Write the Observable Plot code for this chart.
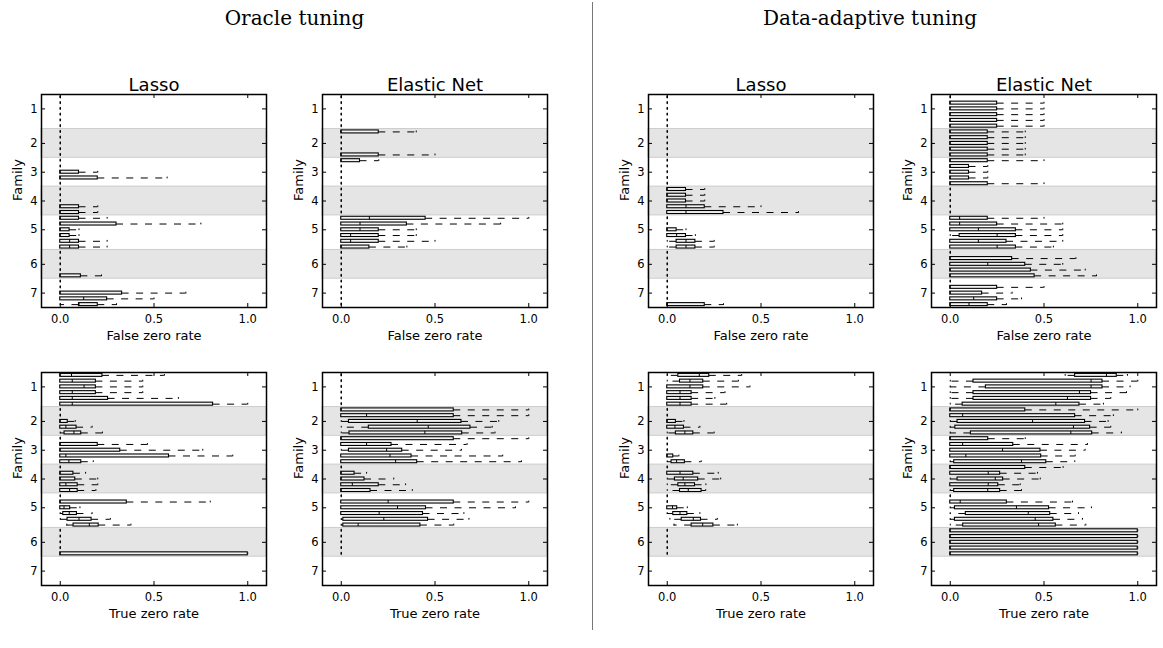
<!DOCTYPE html>
<html><head><meta charset="utf-8">
<script src="https://cdn.jsdelivr.net/npm/d3@7"></script>
<script src="https://cdn.jsdelivr.net/npm/@observablehq/plot@0.6"></script>
<style>
html,body{margin:0;padding:0;background:#fff;}
body{width:1163px;height:648px;position:relative;overflow:hidden;font-family:"DejaVu Sans";}
.panel{position:absolute;}
.hdr{position:absolute;font-family:"DejaVu Serif";font-size:20px;transform:translateX(-50%);white-space:nowrap;line-height:1;}
.sep{position:absolute;left:592px;top:2px;width:1px;height:628px;background:#777;}
</style></head><body>
<div class="sep"></div>
<script>
// ---- categories / ticks ----
const familyLabels = ["1","2","3","4","5","6","7"];
const familyStart  = [1, 7, 12, 17, 22, 28, 33];   // first row of each family
const familySize   = [6, 5, 5, 5, 6, 5, 5];        // rows per family
const shadedFamilies = ["2","4","6"];
const xTicks  = [0, 0.5, 1.0];
const xDomain = [-0.1, 1.1];
const methodTitles = ["Lasso", "Elastic Net"];
const tuningTitles = ["Oracle tuning", "Data-adaptive tuning"];
const rateLabels = ["False zero rate", "True zero rate"];
const rowsFalseZero = 37, rowsTrueZero = 32;

// ---- box statistics: [row, whiskerLow, q1, median, q3, whiskerHigh]; unlisted rows are all 0 ----
const oracleLassoFZR = [
  [14,0,0,0,0.10,0.20],[15,0,0,0,0.20,0.57],
  [20,0,0,0,0.10,0.20],[21,0,0,0,0.10,0.20],[22,0,0,0,0.10,0.25],[23,0,0,0,0.30,0.75],
  [24,0,0,0,0.05,0.10],[25,0,0,0,0.05,0.10],[26,0,0,0.05,0.10,0.25],[27,0,0,0.05,0.10,0.25],
  [32,0,0,0,0.11,0.22],
  [35,0,0,0,0.33,0.67],[36,0,0,0.125,0.25,0.50],[37,0,0.10,0.10,0.20,0.30]
];
const oracleEnetFZR = [
  [7,0,0,0,0.20,0.40],[11,0,0,0,0.20,0.50],[12,0,0,0,0.10,0.20],
  [22,0,0,0.15,0.45,1.0],[23,0,0,0.10,0.35,0.85],[24,0,0,0.10,0.20,0.40],
  [25,0,0,0.05,0.20,0.40],[26,0,0,0.05,0.20,0.50],[27,0,0,0,0.15,0.35]
];
const adaptLassoFZR = [
  [17,0,0,0,0.10,0.20],[18,0,0,0,0.10,0.20],[19,0,0,0,0.10,0.20],
  [20,0,0,0.10,0.20,0.50],[21,0,0,0.10,0.30,0.70],
  [24,0,0,0,0.05,0.10],[25,0,0,0.05,0.10,0.15],[26,0,0.05,0.10,0.15,0.25],[27,0,0.05,0.10,0.15,0.25],
  [37,0,0,0,0.20,0.30]
];
const adaptEnetFZR = [
  [2,0,0,0,0.25,0.50],[3,0,0,0,0.25,0.50],[4,0,0,0,0.25,0.50],[5,0,0,0,0.25,0.50],[6,0,0,0,0.25,0.50],
  [7,0,0,0,0.20,0.40],[8,0,0,0,0.20,0.40],[9,0,0,0,0.20,0.40],[10,0,0,0,0.20,0.40],[11,0,0,0,0.20,0.40],
  [12,0,0,0,0.20,0.50],[13,0,0,0,0.10,0.20],[14,0,0,0,0.10,0.20],[15,0,0,0,0.10,0.20],[16,0,0,0,0.20,0.50],
  [22,0,0,0.05,0.20,0.50],[23,0,0,0.05,0.25,0.60],[24,0,0,0.15,0.35,0.60],
  [25,0,0.05,0.25,0.35,0.60],[26,0,0,0.15,0.30,0.60],[27,0,0,0.25,0.35,0.55],
  [29,0,0,0,0.33,0.67],[30,0,0,0.20,0.40,0.60],[31,0,0,0,0.43,0.72],[32,0,0,0,0.45,0.78],
  [34,0,0,0,0.25,0.50],[35,0,0,0,0.17,0.33],[36,0,0,0.125,0.25,0.38],[37,0,0,0.10,0.20,0.30]
];
const oracleLassoTZR = [
  [1,0,0,0.06,0.225,0.555],[2,0,0,0.064,0.19,0.44],[3,0,0,0.127,0.19,0.44],
  [4,0,0,0.064,0.19,0.44],[5,0,0,0.064,0.255,0.63],[6,0,0,0.064,0.815,1.0],
  [9,0,0,0,0.04,0.08],[10,0,0,0.03,0.087,0.17],[11,0,0.023,0.073,0.112,0.225],
  [13,0,0,0,0.20,0.465],[14,0,0,0,0.32,0.76],[15,0,0,0.03,0.58,0.92],[16,0,0,0.046,0.112,0.176],
  [18,0,0,0,0.07,0.135],[19,0,0,0,0.08,0.20],[20,0,0,0.03,0.093,0.20],[21,0,0,0.05,0.093,0.19],
  [23,0,0,0,0.355,0.80],[24,0,0,0.02,0.053,0.105],[25,0,0.016,0.048,0.089,0.17],
  [26,0,0.039,0.10,0.167,0.267],[27,0.035,0.071,0.155,0.205,0.377],
  [32,0,0,0,1.0,1.0]
];
const oracleEnetTZR = [
  [7,0,0,0,0.60,1.0],[8,0,0,0.135,0.60,1.0],[9,0,0.041,0.405,0.641,0.84],
  [10,0,0.147,0.464,0.689,0.805],[11,0,0.044,0.446,0.645,0.82],
  [12,0,0,0,0.60,1.0],[13,0,0,0.135,0.268,0.671],[14,0,0.041,0.242,0.325,0.641],
  [15,0,0,0.26,0.375,0.861],[16,0,0,0.29,0.405,0.961],
  [18,0,0,0,0.071,0.135],[19,0,0,0,0.124,0.28],[20,0,0,0.059,0.20,0.343],[21,0,0,0,0.156,0.379],
  [23,0,0,0.25,0.60,1.0],[24,0,0,0.30,0.452,0.929],[25,0,0,0.202,0.436,0.654],
  [26,0,0.011,0.227,0.463,0.681],[27,0,0.011,0.09,0.422,0.60]
];
const adaptLassoTZR = [
  [1,0,0.059,0.171,0.224,0.397],[2,0,0.068,0.121,0.192,0.379],[3,0,0,0.121,0.192,0.441],
  [4,0,0,0.068,0.13,0.308],[5,0,0,0.068,0.13,0.254],[6,0,0,0.068,0.13,0.317],
  [9,0,0,0,0.046,0.089],[10,0,0,0.041,0.089,0.174],[11,0,0.046,0.094,0.139,0.25],
  [15,0,0,0,0.032,0.062],[16,0,0.023,0.05,0.094,0.181],
  [18,0,0,0.068,0.139,0.272],[19,0,0.041,0.085,0.165,0.285],[20,0,0.059,0.094,0.148,0.206],[21,0,0.068,0.112,0.183,0.205],
  [24,0,0,0.028,0.053,0.107],[25,0,0.032,0.068,0.107,0.174],[26,0.014,0.077,0.139,0.18,0.267],[27,0.036,0.13,0.189,0.246,0.374]
];
const adaptEnetTZR = [
  [1,0.613,0.666,0.833,0.888,0.945],[2,0,0.124,0.751,0.812,1.0],[3,0,0.19,0.751,0.812,0.959],
  [4,0,0.124,0.689,0.751,0.94],[5,0,0.124,0.625,0.751,0.856],[6,0,0.066,0.563,0.689,0.817],
  [7,0,0,0,0.40,1.0],[8,0,0,0.066,0.666,0.87],[9,0,0.039,0.439,0.719,0.842],
  [10,0,0.027,0.657,0.746,0.856],[11,0,0.11,0.643,0.757,0.913],
  [12,0,0,0,0.2025,0.40],[13,0,0,0.066,0.336,0.732],[14,0,0,0.279,0.481,0.719],
  [15,0,0,0.083,0.485,0.666],[16,0,0.021,0.38,0.512,0.664],
  [17,0,0,0,0.40,0.602],[18,0,0,0.2025,0.266,0.465],[19,0,0.039,0.24,0.282,0.48],
  [20,0,0,0.2025,0.256,0.373],[21,0,0.021,0.2,0.266,0.38],
  [23,0,0,0.053,0.302,0.652],[24,0,0.025,0.353,0.527,0.753],[25,0,0.083,0.416,0.533,0.684],
  [26,0,0.025,0.453,0.55,0.705],[27,0,0.069,0.471,0.563,0.723],
  [28,0,0,0,1.0,1.0],[29,0,0,0,1.0,1.0],[30,0,0,0,1.0,1.0],[31,0,0,0,1.0,1.0],[32,0,0,0,1.0,1.0]
];

// ---- layout ----
const FW = 225, FH = 213, ML = 41, MR = 6, MT = 28, MB = 42;
const frameLeft = [41, 322.3, 648.3, 930.7];
const frameTop  = [94.3, 372.3];

function panel(rows, nRows, title, xlabel) {
  const listed = new Map(rows.map(r => [r[0], r]));
  const data = d3.range(1, nRows + 1)
    .map(p => listed.get(p) ?? [p, 0, 0, 0, 0, 0])
    .map(([pos, lo, q1, med, q3, hi]) => ({pos, lo, q1, med, q3, hi}));
  const fams = familyLabels.map((lab, i) => ({
    lab, start: familyStart[i], size: familySize[i],
    tick: familyStart[i] + Math.floor((familySize[i] - 1) / 2)
  }));
  const bands = fams.filter(f => shadedFamilies.includes(f.lab));
  const tickLab = new Map(fams.map(f => [f.tick, f.lab]));
  const hb = 0.26, hc = 0.15, dash = "7,7.5";
  const marks = [
    Plot.rect(bands, {x1: xDomain[0], x2: xDomain[1], y1: d => d.start - 0.5, y2: d => d.start + d.size - 0.5,
      fill: "#e5e5e5", stroke: "#cdcdcd", strokeWidth: 1}),
    Plot.ruleY(data.filter(d => d.hi > d.q3), {y: d => d.pos, x1: d => d.q3, x2: d => d.hi, stroke: "black", strokeDasharray: dash}),
    Plot.ruleY(data.filter(d => d.lo < d.q1), {y: d => d.pos, x1: d => d.q1, x2: d => d.lo, stroke: "black", strokeDasharray: dash}),
    Plot.ruleX(data, {x: d => d.hi, y1: d => d.pos - hc, y2: d => d.pos + hc, stroke: "black"}),
    Plot.ruleX(data, {x: d => d.lo, y1: d => d.pos - hc, y2: d => d.pos + hc, stroke: "black"}),
    Plot.rect(data.filter(d => d.q3 > d.q1), {x1: d => d.q1, x2: d => d.q3, y1: d => d.pos - hb, y2: d => d.pos + hb,
      fill: "#f4f4f4", stroke: "black", strokeWidth: 1.1}),
    Plot.ruleX(data, {x: d => d.med, y1: d => d.pos - hb, y2: d => d.pos + hb, stroke: "black"}),
    // inward tick marks on all four sides
    Plot.tickX(xTicks, {x: d => d, insetTop: FH - 4, stroke: "black"}),
    Plot.tickX(xTicks, {x: d => d, insetBottom: FH - 4, stroke: "black"}),
    Plot.tickY(fams, {y: d => d.tick, insetRight: FW - 4, stroke: "black"}),
    Plot.tickY(fams, {y: d => d.tick, insetLeft: FW - 4, stroke: "black"}),
    Plot.axisX(xTicks, {tickSize: 0, tickPadding: 7, tickFormat: d3.format(".1f"), fontSize: 11.5, label: null}),
    Plot.axisY(fams.map(f => f.tick), {tickSize: 0, tickPadding: 4, tickFormat: d => tickLab.get(d), fontSize: 11.5, label: null}),
    Plot.text([xlabel], {frameAnchor: "bottom", dy: 32, lineAnchor: "bottom", fontSize: 13, text: d => d, fill: "black"}),
    Plot.text(["Family"], {frameAnchor: "left", dx: -20, rotate: -90, lineAnchor: "bottom", fontSize: 13, text: d => d, fill: "black"}),
    Plot.frame({stroke: "black", strokeWidth: 1.5})
  ];
  if (title) marks.push(Plot.text([title], {frameAnchor: "top", dy: -4, lineAnchor: "bottom", fontSize: 18, text: d => d, fill: "black"}));
  return Plot.plot({
    width: ML + FW + MR, height: MT + FH + MB,
    marginLeft: ML, marginRight: MR, marginTop: MT, marginBottom: MB,
    style: {fontFamily: "DejaVu Sans", background: "transparent", color: "black", overflow: "visible"},
    x: {domain: xDomain},
    y: {domain: [0.5, rowsFalseZero + 0.5], reverse: true},
    marks
  });
}

const panels = [
  [oracleLassoFZR, rowsFalseZero, 0, 0, methodTitles[0], rateLabels[0]],
  [oracleEnetFZR,  rowsFalseZero, 1, 0, methodTitles[1], rateLabels[0]],
  [adaptLassoFZR,  rowsFalseZero, 2, 0, methodTitles[0], rateLabels[0]],
  [adaptEnetFZR,   rowsFalseZero, 3, 0, methodTitles[1], rateLabels[0]],
  [oracleLassoTZR, rowsTrueZero,  0, 1, null, rateLabels[1]],
  [oracleEnetTZR,  rowsTrueZero,  1, 1, null, rateLabels[1]],
  [adaptLassoTZR,  rowsTrueZero,  2, 1, null, rateLabels[1]],
  [adaptEnetTZR,   rowsTrueZero,  3, 1, null, rateLabels[1]]
];
for (const [rows, n, c, r, title, xl] of panels) {
  const div = document.createElement("div");
  div.className = "panel";
  div.style.left = (frameLeft[c] - ML) + "px";
  div.style.top = (frameTop[r] - MT) + "px";
  div.appendChild(panel(rows, n, title, xl));
  document.body.appendChild(div);
}
const hdrX = [294.5, 870];
tuningTitles.forEach((t, i) => {
  const h = document.createElement("div");
  h.className = "hdr";
  h.style.left = hdrX[i] + "px";
  h.style.top = "8px";
  h.textContent = t;
  document.body.appendChild(h);
});
</script></body></html>
